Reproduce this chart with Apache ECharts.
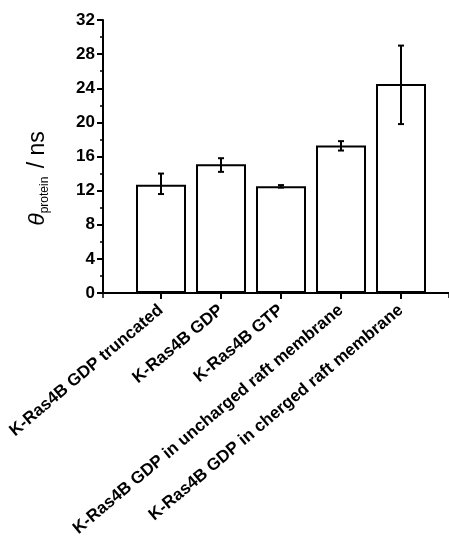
<!DOCTYPE html>
<html><head><meta charset="utf-8">
<script src="https://cdn.jsdelivr.net/npm/echarts@6/dist/echarts.min.js"></script>
<style>html,body{margin:0;padding:0;background:#fff}#c{width:449px;height:541px}</style>
</head><body><div id="c"></div>
<script>
const categories = [
  'K-Ras4B GDP truncated',
  'K-Ras4B GDP',
  'K-Ras4B GTP',
  'K-Ras4B GDP in uncharged raft membrane',
  'K-Ras4B GDP in cherged raft membrane'
];
const values = [12.7, 15.1, 12.5, 17.3, 24.5];
const errLow = [11.6, 14.2, 12.35, 16.7, 19.8];
const errHigh = [14.0, 15.8, 12.65, 17.8, 29.0];
const yTicks = [0, 4, 8, 12, 16, 20, 24, 28, 32];

const FONT = 'Liberation Sans, Arial, sans-serif';
const chart = echarts.init(document.getElementById('c'), null, {renderer: 'canvas'});
chart.setOption({
  animation: false,
  backgroundColor: '#fff',
  grid: [
    {left: 131, width: 300, top: 20, bottom: 248, containLabel: false},
    {left: 103, right: 0, top: 20, bottom: 248, containLabel: false}
  ],
  xAxis: [
    {
      type: 'category', gridIndex: 0, data: categories,
      axisLine: {show: false},
      axisTick: {show: true, alignWithLabel: true, length: 6, lineStyle: {color: '#000', width: 2}},
      axisLabel: {rotate: 40, interval: 0, margin: 15, color: '#000', fontSize: 17, fontWeight: 'bold', fontFamily: FONT}
    },
    {
      type: 'value', gridIndex: 1, min: 0, max: 346, interval: 1000,
      axisLine: {show: true, lineStyle: {color: '#000', width: 2}},
      axisTick: {show: true, length: 5, lineStyle: {color: '#000', width: 1.5}},
      axisLabel: {show: false}, splitLine: {show: false}
    }
  ],
  yAxis: [
    {
      type: 'value', gridIndex: 0, min: yTicks[0], max: yTicks[yTicks.length - 1], interval: 4,
      offset: 28,
      name: '{t|θ}{s|protein}{n| / ns}',
      nameLocation: 'middle', nameGap: 52, nameRotate: 90,
      nameTextStyle: {
        rich: {
          t: {fontSize: 23, fontStyle: 'italic', fontFamily: FONT, color: '#000'},
          s: {fontSize: 12, fontFamily: FONT, color: '#000', padding: [14, 2, 0, 0]},
          n: {fontSize: 23, fontFamily: FONT, color: '#000', padding: [0, 44, 0, 0]}
        }
      },
      axisLine: {show: true, lineStyle: {color: '#000', width: 2}},
      axisTick: {show: true, length: 6, lineStyle: {color: '#000', width: 2}},
      minorTick: {show: true, splitNumber: 2, length: 3, lineStyle: {color: '#000', width: 1.5}},
      axisLabel: {margin: 8, color: '#000', fontSize: 17, fontWeight: 'bold', fontFamily: FONT},
      splitLine: {show: false}
    },
    {type: 'value', gridIndex: 1, show: false, min: 0, max: 32}
  ],
  series: [
    {
      type: 'bar', xAxisIndex: 0, yAxisIndex: 0, data: values, barWidth: 50,
      itemStyle: {color: '#fff', borderColor: '#000', borderWidth: 2}
    },
    {
      type: 'custom', xAxisIndex: 0, yAxisIndex: 0,
      data: categories.map((c, i) => [i, errLow[i], errHigh[i]]),
      renderItem: function (params, api) {
        const lo = api.coord([api.value(0), api.value(1)]);
        const hi = api.coord([api.value(0), api.value(2)]);
        const hw = 3;
        const st = {stroke: '#000', lineWidth: 2};
        return {type: 'group', children: [
          {type: 'line', shape: {x1: lo[0], y1: lo[1], x2: hi[0], y2: hi[1]}, style: st},
          {type: 'line', shape: {x1: lo[0] - hw, y1: lo[1], x2: lo[0] + hw, y2: lo[1]}, style: st},
          {type: 'line', shape: {x1: hi[0] - hw, y1: hi[1], x2: hi[0] + hw, y2: hi[1]}, style: st}
        ]};
      },
      z: 5
    }
  ]
});
</script></body></html>
